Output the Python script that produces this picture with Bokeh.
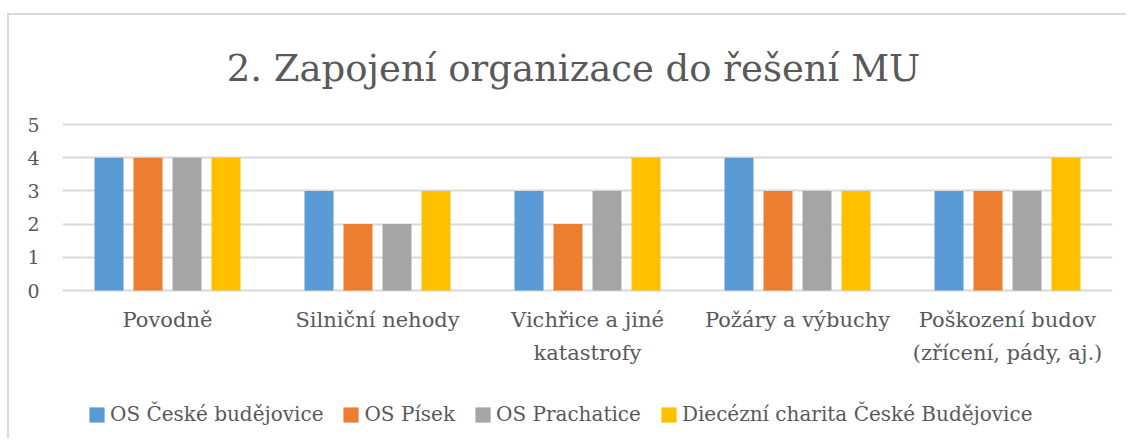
from bokeh.plotting import figure
from bokeh.models import ColumnDataSource, Legend, LegendItem, FactorRange, Label
from bokeh.core.properties import value
from bokeh.transform import dodge
from bokeh.embed import file_html
from bokeh.resources import INLINE

categories = ["Povodně", "Silniční nehody", "Vichřice a jiné\nkatastrofy",
              "Požáry a výbuchy", "Poškození budov\n(zřícení, pády, aj.)"]
series_names = ["OS České budějovice", "OS Písek", "OS Prachatice",
                "Diecézní charita České Budějovice"]
os_cb = [4, 3, 3, 4, 3]
os_pisek = [4, 2, 2, 3, 3]
os_prachatice = [4, 2, 3, 3, 3]
charita_cb = [4, 3, 4, 3, 4]
y_ticks = [0, 1, 2, 3, 4, 5]
title_text = "2. Zapojení organizace do řešení MU"

colors = ["#5B9BD5", "#ED7D31", "#A5A5A5", "#FFC000"]
FONT = "DejaVu Serif"
TXT = "#595959"
GRID = "#d9d9d9"

source = ColumnDataSource(dict(cat=categories, s0=os_cb, s1=os_pisek,
                               s2=os_prachatice, s3=charita_cb))

W, H = 1119, 425
LEFT, RIGHT = 53, 16
Y0_PX, Y5_PX = 275, 109          # canvas pixel rows of value 0 and value 5
ppu = (Y0_PX - Y5_PX) / 5.0
y_end = 5 + Y5_PX / ppu
y_start = -(H - Y0_PX) / ppu

p = figure(x_range=FactorRange(*categories, range_padding=0),
           y_range=(y_start, y_end),
           width=W, height=H, output_backend="svg", toolbar_location=None,
           min_border_left=LEFT, min_border_right=RIGHT, min_border_top=0,
           min_border_bottom=0)
p.outline_line_color = None
p.background_fill_color = "white"
p.border_fill_color = "white"
p.styles = {"margin-left": "7px", "margin-top": "13px",
            "border-left": "2px solid #d9d9d9", "border-top": "2px solid #d9d9d9"}

step = 39 / 210
bw = 29 / 210
offsets = [-1.5 * step, -0.5 * step, 0.5 * step, 1.5 * step]
renderers = []
for i, col in enumerate(["s0", "s1", "s2", "s3"]):
    r = p.vbar(x=dodge("cat", offsets[i], range=p.x_range), top=col, width=bw,
               source=source, fill_color=colors[i], line_color=None)
    renderers.append(r)

# category labels below the value axis
p.text(x="cat", y=-17 / ppu, text="cat", source=source, text_font=value(FONT),
       text_font_size="21px", text_color=TXT, text_align="center",
       text_baseline="top", text_line_height=1.38)

# axes
p.xaxis.visible = False
p.yaxis.ticker = y_ticks
p.yaxis.axis_line_color = None
p.yaxis.major_tick_line_color = None
p.yaxis.minor_tick_line_color = None
p.yaxis.major_label_standoff = 17
p.yaxis.major_label_text_font = FONT
p.yaxis.major_label_text_font_size = "19px"
p.yaxis.major_label_text_color = TXT

p.xgrid.grid_line_color = None
p.ygrid.grid_line_color = GRID
p.ygrid.grid_line_width = 2
p.ygrid.ticker = y_ticks

# title
p.add_layout(Label(x=511, y=H - 53, x_units="screen", y_units="screen", text=title_text,
                   text_font=FONT, text_font_size="37px", text_color=TXT,
                   text_align="center", text_baseline="alphabetic"))

# legend
items = [LegendItem(label=series_names[i], renderers=[renderers[i]]) for i in range(4)]
legend = Legend(items=items, orientation="horizontal", location=(25, 14),
                glyph_width=19, glyph_height=19, label_standoff=4, spacing=18,
                padding=0, margin=0, border_line_color=None, background_fill_alpha=0,
                label_text_font=FONT, label_text_font_size="20px",
                label_text_color=TXT, label_height=19)
p.add_layout(legend, "center")

open("out.html", "w").write(file_html(p, INLINE))
